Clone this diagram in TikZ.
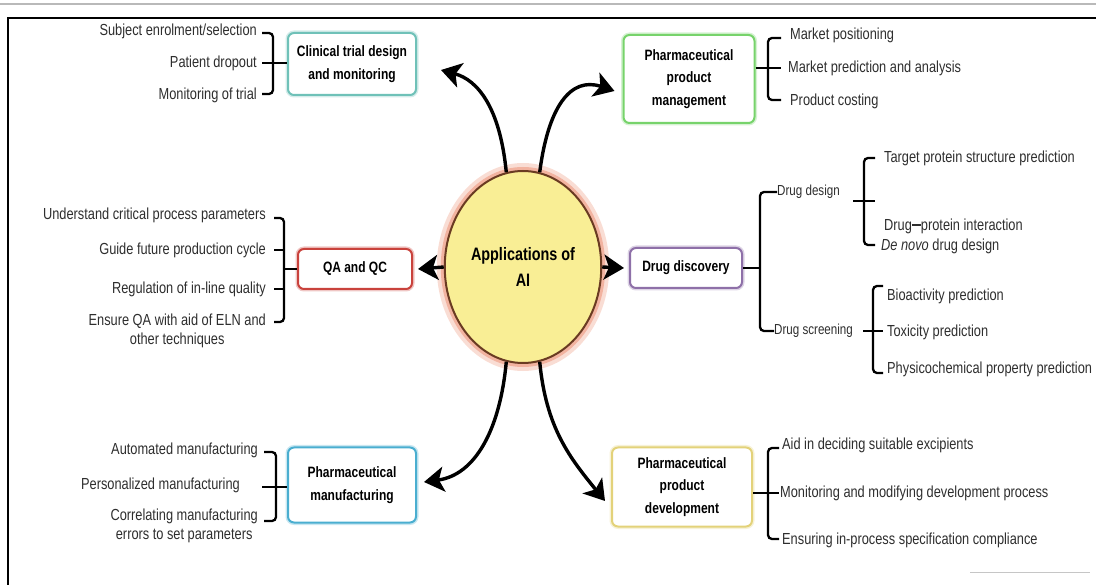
\documentclass[tikz,border=0pt]{standalone}
\usepackage{fontspec}
\setmainfont[FakeStretch=0.8]{Liberation Sans}
\usetikzlibrary{arrows.meta,shapes.geometric}
\definecolor{cteal}{HTML}{6FC1B8}
\definecolor{cgreen}{HTML}{77D36B}
\definecolor{cred}{HTML}{C9423C}
\definecolor{cpurple}{HTML}{8E70A8}
\definecolor{cblue}{HTML}{4AAED0}
\definecolor{cyell}{HTML}{E3D27A}
\definecolor{cfill}{HTML}{F9EE95}
\definecolor{cbrown}{HTML}{6A3B22}
\definecolor{cglow}{HTML}{F2B3A0}
\definecolor{ctext}{HTML}{2E2E2E}
\begin{document}
\begin{tikzpicture}[x=1pt,y=-1pt,
  lbl/.style={font=\fontsize{16}{19}\selectfont, inner sep=0pt, text=ctext},
  small/.style={font=\fontsize{14.5}{17}\selectfont},
  box/.style={draw=#1, rounded corners=6pt, line width=2pt, fill=white,
     preaction={draw=#1!30, line width=5pt},
     align=center, font=\bfseries\fontsize{15}{22.5}\selectfont, inner sep=2pt},
  brace/.style={line width=2.3pt, rounded corners=4pt},
  tick/.style={line width=2.3pt},
  bigarrow/.style={line width=3.4pt, -{Stealth[length=20pt,width=25pt,inset=5pt]}}]
\useasboundingbox (0,0) rectangle (1096,585);
% page lines
\draw[gray!55, line width=1.5pt] (0,4) -- (1096,4);
\draw[line width=1.6pt] (8,585) -- (8,18) -- (1096,18);
\draw[gray!45, line width=1pt] (970,572) -- (1090,572);
% centre
\node[ellipse, draw=cbrown, line width=2pt, fill=cfill, minimum width=124, minimum height=192,
  preaction={draw=cglow!45, line width=16pt}, preaction={draw=cglow, line width=8pt}, align=center,
  font=\bfseries\fontsize{18}{26}\selectfont] (ai) at (523,267) {Applications of\\AI};
% boxes
\node[box=cteal, minimum width=128, minimum height=62] (cl) at (352,64) {Clinical trial design\\and monitoring};
\node[box=cgreen, minimum width=131, minimum height=88] (mg) at (689,79) {Pharmaceutical\\product\\management};
\node[box=cred, minimum width=114, minimum height=40] (qa) at (355,269) {QA and QC};
\node[box=cpurple, minimum width=112, minimum height=40] (dd) at (686,268) {Drug discovery};
\node[box=cblue, minimum width=128, minimum height=75] (mf) at (352,485) {Pharmaceutical\\manufacturing};
\node[box=cyell, minimum width=140, minimum height=79] (dv) at (682,487) {Pharmaceutical\\product\\development};
% arrows
\draw[bigarrow] (ai.100) .. controls (500,108) and (478,80) .. ([xshift=24pt,yshift=-6pt]cl.east);
\draw[bigarrow] (ai.80) .. controls (548,108) and (570,76) .. ([xshift=-8pt,yshift=-12pt]mg.west);
\draw[bigarrow] (ai.west) -- ([xshift=5pt]qa.east);
\draw[bigarrow] (ai.east) -- ([xshift=-5pt]dd.west);
\draw[bigarrow] (ai.260) .. controls (500,430) and (475,475) .. ([xshift=7pt,yshift=3pt]mf.east);
\draw[bigarrow] (ai.280) .. controls (546,428) and (570,458) .. ([xshift=-6pt,yshift=-14pt]dv.west);
% clinical labels
\node[lbl, anchor=east] (c1) at (257,31) {Subject enrolment/selection};
\node[lbl, anchor=east] (c2) at (257,63) {Patient dropout};
\node[lbl, anchor=east] (c3) at (257,95) {Monitoring of trial};
\draw[brace] (262,33) -- (273,33) -- (273,94) -- (262,94);
\draw[tick] (262,63) -- (cl.west |- c2.east);
% management labels
\node[lbl, anchor=west] (m1) at (790,35) {Market positioning};
\node[lbl, anchor=west] (m2) at (788,68) {Market prediction and analysis};
\node[lbl, anchor=west] (m3) at (790,101) {Product costing};
\draw[brace] (781,38) -- (768,38) -- (768,100) -- (781,100);
\draw[tick] (mg.east |- m2.west) -- (781,68);
% QA labels
\node[lbl, anchor=east] (q1) at (266,215) {Understand critical process parameters};
\node[lbl, anchor=east] (q2) at (266,250) {Guide future production cycle};
\node[lbl, anchor=east] (q3) at (266,289) {Regulation of in-line quality};
\node[lbl, anchor=north east, align=center] (q4) at (266,314) {Ensure QA with aid of ELN and\\other techniques};
\draw[brace] (274,218) -- (284,218) -- (284,322) -- (274,322);
\draw[tick] (274,250) -- (284,250);
\draw[tick] (274,289) -- (284,289);
\draw[tick] (284,269) -- (qa.west);
% drug discovery
\node[lbl, small, anchor=west] (d1) at (777,192) {Drug design};
\node[lbl, small, anchor=west] (d2) at (774,331) {Drug screening};
\draw[tick] (dd.east) -- (760,268);
\draw[brace] (d1.west) -- (760,192) -- (760,331) -- (d2.west);
\node[lbl, anchor=west] (t1) at (884,158) {Target protein structure prediction};
\node[lbl, anchor=west] (t2) at (884,226) {Drug\raisebox{.5ex}{\rule{9pt}{1.8pt}}protein interaction};
\node[lbl, anchor=west] (t3) at (881,246) {\textit{De novo} drug design};
\draw[brace] (875,158) -- (864,158) -- (864,245) -- (875,245);
\draw[tick] (853,201) -- (875,201);
\node[lbl, anchor=west] (s1) at (887,296) {Bioactivity prediction};
\node[lbl, anchor=west] (s2) at (887,332) {Toxicity prediction};
\node[lbl, anchor=west] (s3) at (887,369) {Physicochemical property prediction};
\draw[brace] (883,286) -- (873,286) -- (873,373) -- (883,373);
\draw[tick] (863,331) -- (883,331);
% manufacturing
\node[lbl, anchor=east] (f1) at (258,450) {Automated manufacturing};
\node[lbl, anchor=east] (f2) at (240,485) {Personalized manufacturing};
\node[lbl, anchor=north east, align=center] (f3) at (258,509) {Correlating manufacturing\\errors to set parameters};
\draw[brace] (264,452) -- (276,452) -- (276,521) -- (264,521);
\draw[tick] (262,487) -- (mf.west |- 0,487);
% development
\node[lbl, anchor=west] (v1) at (782,445) {Aid in deciding suitable excipients};
\node[lbl, anchor=west] (v2) at (780,493) {Monitoring and modifying development process};
\node[lbl, anchor=west] (v3) at (782,540) {Ensuring in-process specification compliance};
\draw[brace] (779,448) -- (768,448) -- (768,539) -- (779,539);
\draw[tick] (dv.east |- v2.west) -- (779,493);
\end{tikzpicture}
\end{document}
